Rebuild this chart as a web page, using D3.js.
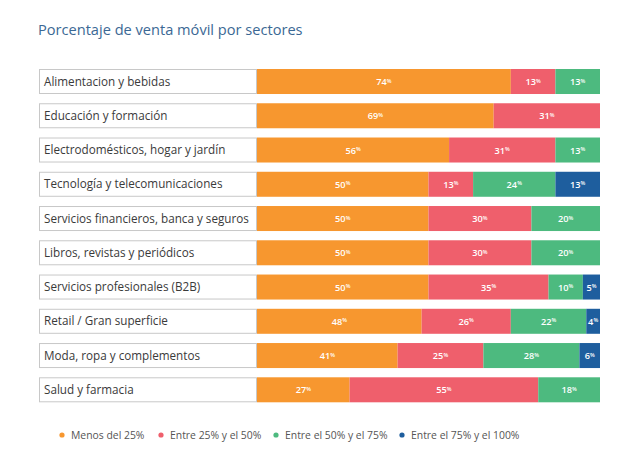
<!DOCTYPE html>
<html><head><meta charset="utf-8">
<script src="https://cdn.jsdelivr.net/npm/d3@7"></script>
<style>body{margin:0;background:#fff;} svg{display:block;}</style>
</head><body>
<svg id="c" width="634" height="464"></svg>
<script>
const categories = ["Alimentacion y bebidas","Educación y formación","Electrodomésticos, hogar y jardín","Tecnología y telecomunicaciones","Servicios financieros, banca y seguros","Libros, revistas y periódicos","Servicios profesionales (B2B)","Retail / Gran superficie","Moda, ropa y complementos","Salud y farmacia"];
const seriesNames = ["Menos del 25%","Entre 25% y el 50%","Entre el 50% y el 75%","Entre el 75% y el 100%"];
const menos25 = [74,69,56,50,50,50,50,48,41,27];
const entre25y50 = [13,31,31,13,30,30,35,26,25,55];
const entre50y75 = [13,0,13,24,20,20,10,22,28,18];
const entre75y100 = [0,0,0,13,0,0,5,4,6,0];
const colors = ["#F7972F","#EF5F6C","#4DBA7F","#1E5E9E"];

const svg = d3.select("#c");
const font = "'Open Sans', sans-serif";
const keys = ["a","b","c","d"];
const rows = categories.map((c,i)=>({cat:c,a:menos25[i],b:entre25y50[i],c:entre50y75[i],d:entre75y100[i]}));
const stack = d3.stack().keys(keys)(rows);

const x = d3.scaleLinear().domain([0,100]).range([257,600]);
const y = d3.scaleBand().domain(categories).range([69,402.3]).paddingInner(0.27).paddingOuter(0);

svg.append("text").attr("x",38).attr("y",35).attr("font-family",font).attr("font-size",14.6)
  .attr("fill","#3B6894").text("Porcentaje de venta móvil por sectores");

// label boxes
const lab = svg.append("g");
lab.selectAll("rect").data(categories).join("rect")
  .attr("x",39.5).attr("y",d=>y(d)+0.5).attr("width",217).attr("height",y.bandwidth()-1)
  .attr("fill","#fff").attr("stroke","#c8c8c8").attr("stroke-width",1);
lab.selectAll("text").data(categories).join("text")
  .attr("x",44).attr("y",d=>y(d)+y.bandwidth()/2+4).attr("font-family",font).attr("font-size",11.7)
  .attr("fill","#3a3a3a").text(d=>d);

// bars
const g = svg.append("g");
stack.forEach((s,si)=>{
  const gg = g.append("g").attr("fill",colors[si]);
  gg.selectAll("rect").data(s.filter(d=>d[1]-d[0]>0)).join("rect")
    .attr("x",d=>x(d[0])).attr("y",d=>y(d.data.cat)).attr("width",d=>x(d[1])-x(d[0])).attr("height",y.bandwidth());
  const t = g.append("g").selectAll("text").data(s.filter(d=>d[1]-d[0]>0)).join("text")
    .attr("x",d=>(x(d[0])+x(d[1]))/2).attr("y",d=>y(d.data.cat)+y.bandwidth()/2+3.5)
    .attr("text-anchor","middle").attr("font-family",font).attr("font-size",9.2).attr("font-weight",600)
    .attr("fill","#fff");
  t.append("tspan").text(d=>d[1]-d[0]);
  t.append("tspan").attr("font-size",5.5).attr("dy",-2.5).text("%");
});

// legend
const legX = [62,161,276,402];
const leg = svg.append("g");
seriesNames.forEach((n,i)=>{
  leg.append("circle").attr("cx",legX[i]).attr("cy",435).attr("r",2.6).attr("fill",colors[i]);
  leg.append("text").attr("x",legX[i]+9).attr("y",439).attr("font-family",font).attr("font-size",10.4)
    .attr("fill","#555").text(n);
});
</script>
</body></html>
